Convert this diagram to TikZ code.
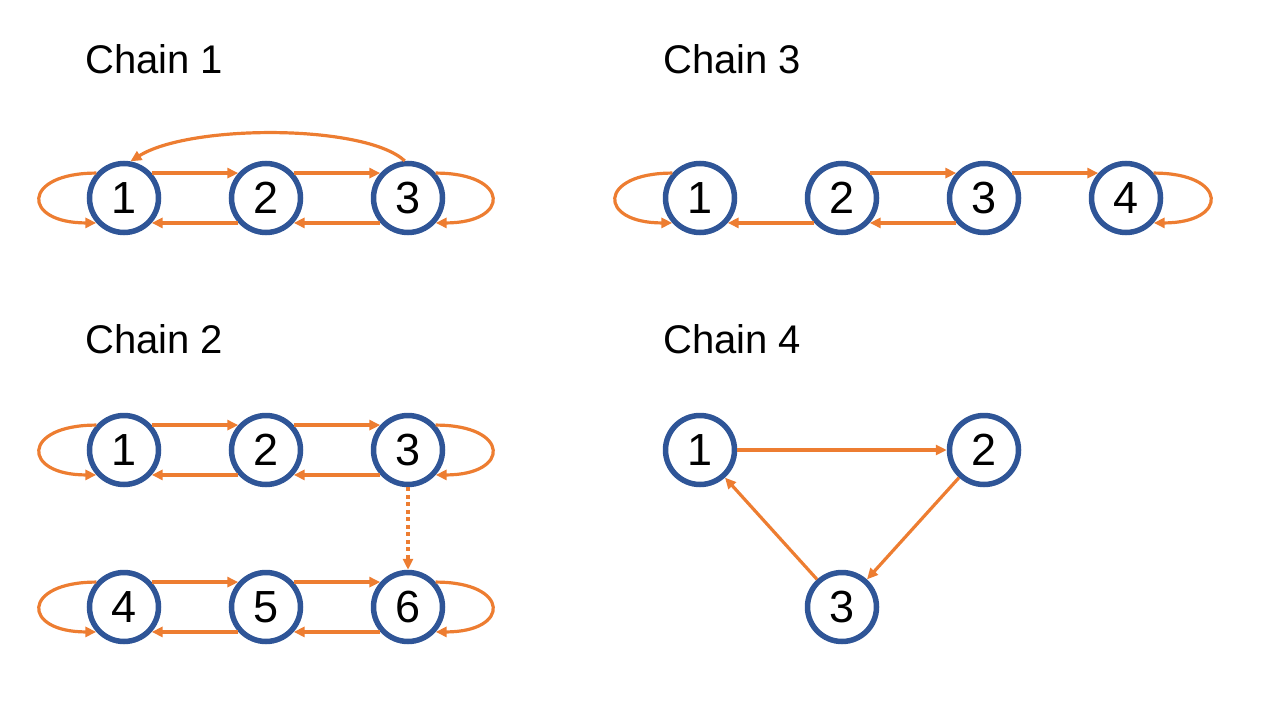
\documentclass[tikz,border=0pt]{standalone}
\usepackage{fontspec}
\setmainfont{Liberation Sans}
\usetikzlibrary{arrows.meta}
\definecolor{edgeorange}{HTML}{ED7D31}
\definecolor{nodeblue}{HTML}{2F5597}
\tikzset{
  st/.style={circle, draw=nodeblue, fill=white, line width=5.5pt, minimum size=69pt, inner sep=0pt,
    font=\fontsize{45}{45}\selectfont},
  title/.style={anchor=base west, inner sep=0pt, font=\fontsize{40}{40}\selectfont},
  tr/.style={draw=edgeorange, line width=3.2pt, -{Triangle[length=11pt,width=10pt]}},
  dottr/.style={tr, dash pattern=on 4pt off 3.5pt},
}
\begin{document}
\begin{tikzpicture}[x=1pt,y=-1pt]
\useasboundingbox (0,0) rectangle (1280,720);
% titles
\node[title] (t1) at (85,73) {Chain 1};
\node[title] (t3) at (663,73) {Chain 3};
\node[title] (t2) at (85,353) {Chain 2};
\node[title] (t4) at (663,353) {Chain 4};
% Chain 1
\node[st] (a1) at (124,198) {1};
\node[st] (a2) at (266,198) {2};
\node[st] (a3) at (408,198) {3};
\draw[tr] (a1.42) -- (a2.138);
\draw[tr] (a2.42) -- (a3.138);
\draw[tr] (a3.-138) -- (a2.-42);
\draw[tr] (a2.-138) -- (a1.-42);
\draw[tr] (a1.138) .. controls +(-75,0) and +(-75,0) .. (a1.222);
\draw[tr] (a3.42) .. controls +(75,0) and +(75,0) .. (a3.-42);
\draw[tr] (a3.95) .. controls (365,124) and (190,124) .. (a1.80);
% Chain 2
\node[st] (b1) at (124,450) {1};
\node[st] (b2) at (266,450) {2};
\node[st] (b3) at (408,450) {3};
\node[st] (b4) at (124,607) {4};
\node[st] (b5) at (266,607) {5};
\node[st] (b6) at (408,607) {6};
\draw[tr] (b1.42) -- (b2.138);
\draw[tr] (b2.42) -- (b3.138);
\draw[tr] (b3.-138) -- (b2.-42);
\draw[tr] (b2.-138) -- (b1.-42);
\draw[tr] (b1.138) .. controls +(-75,0) and +(-75,0) .. (b1.222);
\draw[tr] (b3.42) .. controls +(75,0) and +(75,0) .. (b3.-42);
\draw[tr] (b4.42) -- (b5.138);
\draw[tr] (b5.42) -- (b6.138);
\draw[tr] (b6.-138) -- (b5.-42);
\draw[tr] (b5.-138) -- (b4.-42);
\draw[tr] (b4.138) .. controls +(-75,0) and +(-75,0) .. (b4.222);
\draw[tr] (b6.42) .. controls +(75,0) and +(75,0) .. (b6.-42);
\draw[dottr] (b3.south) -- (b6.north);
% Chain 3
\node[st] (c1) at (700,198) {1};
\node[st] (c2) at (842,198) {2};
\node[st] (c3) at (984,198) {3};
\node[st] (c4) at (1126,198) {4};
\draw[tr] (c2.42) -- (c3.138);
\draw[tr] (c3.42) -- (c4.138);
\draw[tr] (c3.-138) -- (c2.-42);
\draw[tr] (c2.-138) -- (c1.-42);
\draw[tr] (c1.138) .. controls +(-75,0) and +(-75,0) .. (c1.222);
\draw[tr] (c4.42) .. controls +(75,0) and +(75,0) .. (c4.-42);
% Chain 4
\node[st] (d1) at (700,450) {1};
\node[st] (d2) at (984,450) {2};
\node[st] (d3) at (842,607) {3};
\draw[tr] (d1) -- (d2);
\draw[tr] (d2) -- (d3);
\draw[tr] (d3) -- (d1);
\end{tikzpicture}
\end{document}
